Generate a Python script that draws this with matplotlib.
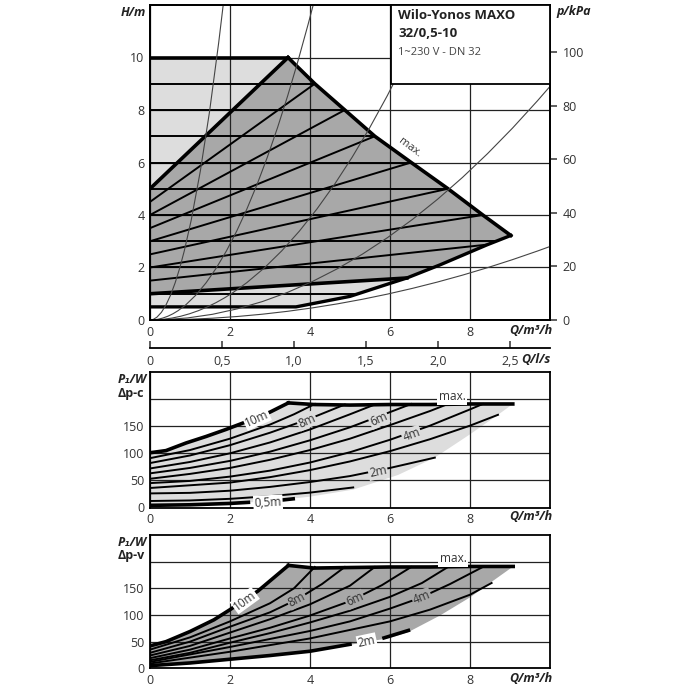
import matplotlib
matplotlib.use("Agg")
import matplotlib.pyplot as plt
from matplotlib.patches import Polygon, Rectangle, PathPatch
from matplotlib.path import Path

plt.rcParams['font.family'] = ['Open Sans', 'DejaVu Sans']
plt.rcParams['axes.linewidth'] = 1.3

# ---------------- data: H(Q) chart ----------------
q_ticks = [0, 2, 4, 6, 8]
h_ticks = [0, 2, 4, 6, 8, 10]
kpa_ticks = [0, 20, 40, 60, 80, 100]
ls_ticks = [0, 0.5, 1.0, 1.5, 2.0, 2.5]
ls_labels = ["0", "0,5", "1,0", "1,5", "2,0", "2,5"]
p_ticks = [0, 50, 100, 150, 200]
p_labels = ["0", "50", "100", "150", ""]

max_q = [3.45, 4.12, 4.87, 5.62, 6.53, 7.45, 8.32, 9.02]
max_h = [10, 9, 8, 7, 6, 5, 4, 3.22]
low_q = [0, 3.65, 5.0, 6.05, 6.42, 7.25, 8.42, 9.02]
low_h = [0.5, 0.5, 0.9, 1.42, 1.6, 2.1, 2.86, 3.22]
dpc_h = [9, 8, 7, 6, 5, 4, 3, 2, 1]
dpc_qend = [4.12, 4.87, 5.62, 6.53, 7.45, 8.32, 8.65, 7.08, 5.2]
dpv_h0 = [4.5, 4, 3.5, 3, 2.5, 2, 1.5]
dpv_q1 = [4.12, 4.87, 5.62, 6.53, 7.45, 8.32, 8.42]
dpv_h1 = [9, 8, 7, 6, 5, 4, 2.87]
dpv_top = ([0, 3.45], [5, 10])
dpv_bot = ([0, 6.42], [1.0, 1.6])
# system curves (parabolas through origin): exit point of each curve
sys_end_q = [1.83, 4.08, 7.03, 10.0, 10.0]
sys_end_h = [12, 12, 12, 8.9, 2.8]

# ---------------- data: P1 for dp-c ----------------
pc_q = [
    [0, 0.4, 0.9, 1.4, 1.9, 2.4, 3.0, 3.46],
    [0, 1, 2, 3, 3.6, 4.12],
    [0, 1, 2, 3, 4, 4.87],
    [0, 1, 2, 3, 4, 5, 5.62],
    [0, 1, 2, 3, 4, 5, 6, 6.53],
    [0, 1, 2, 3, 4, 5, 6, 7, 7.45],
    [0, 1, 2, 3, 4, 5, 6, 7, 8, 8.32],
    [0, 2, 3, 4, 5, 6, 7, 8, 8.7],
    [0, 1, 2, 3, 4, 5, 6, 7.12],
    [0, 1, 2, 3, 4, 5.08],
]
pc_p = [
    [101, 105, 119, 131, 144, 158, 176, 193],
    [91, 106, 127, 153, 172, 191],
    [82, 96, 115, 138, 164, 190],
    [72, 84, 100, 120, 144, 172, 190],
    [63, 73, 86, 103, 124, 148, 176, 191],
    [53, 62, 73, 88, 106, 127, 152, 178, 191],
    [45, 49, 57, 68, 83, 102, 125, 151, 181, 191],
    [36, 46, 56, 69, 85, 104, 126, 151, 171],
    [26, 27, 31, 38, 47, 58, 73, 92],
    [12, 13, 16, 21, 27.5, 37],
]
pc_min_q = [0, 1, 2, 2.46]
pc_min_p = [4, 5, 7.5, 9.5]
pc_min2_q = [3.33, 3.58]
pc_min2_p = [14, 16]
pc_max_q = [3.46, 4.1, 5.0, 6.0, 7.0, 8.0, 9.07]
pc_max_p = [193, 190, 189, 190, 190, 191, 191]
pc_low_q = [9.07, 8.7, 8.0, 7.12, 6.2, 5.08, 4.0, 3.0, 2.0, 0]
pc_low_p = [191, 171, 135, 92, 60, 33, 20, 12, 7, 3]

# ---------------- data: P1 for dp-v ----------------
pv_q = [
    [0, 0.4, 1, 1.6, 2, 2.7, 3.46],
    [0, 1, 2, 3, 3.6, 4.12],
    [0, 1, 2, 3, 3.67, 4.3, 4.87],
    [0, 1, 2, 3, 4, 5, 5.62],
    [0, 1, 2, 3, 4, 5, 5.8, 6.53],
    [0, 1, 2, 3, 4, 5, 6, 6.8, 7.45],
    [0, 2, 4, 5, 6, 6.75, 7.5, 8.32],
    [0, 2, 4, 6, 7, 8, 8.54],
]
pv_p = [
    [42, 50, 69, 91, 110, 145, 193],
    [35, 58, 88, 122, 150, 190],
    [29, 50, 78, 105, 129, 158, 190],
    [24, 42, 67, 92, 120, 155, 190],
    [19, 35, 56, 76, 99, 126, 156, 190],
    [15, 29, 48, 66, 86, 108, 134, 160, 190],
    [12, 40, 70, 88, 112, 132, 158, 190],
    [9, 31, 56, 88, 110, 138, 160],
]
pv_min_q = [0, 1, 2, 3, 4, 5.0]
pv_min_p = [5, 10, 17, 24, 32, 45]
pv_min2_q = [5.85, 6.46]
pv_min2_p = [57, 71]
pv_max_q = [3.46, 4.1, 5.0, 6.0, 7.0, 8.0, 9.08]
pv_max_p = [193, 188, 189, 190, 190, 191, 191]
pv_low_q = [9.08, 8.5, 8.0, 7.25, 6.46, 6.0, 5.0]
pv_low_p = [191, 160, 133, 99, 68, 57, 44]

# ---------------- figure ----------------
W = H = 700.0
fig = plt.figure(figsize=(7, 7), dpi=100)


def px_axes(l, t, r, b):
    return fig.add_axes([l / W, 1 - b / H, (r - l) / W, (b - t) / H])


GRID = dict(color='#222222', lw=0.9)
LIGHT = '#dddddd'
DARK = '#a8a8a8'
TXT = '#333333'
FS = 9


def style_axes(ax, ylim, yticks, ylabels):
    ax.set_xlim(0, 10)
    ax.set_ylim(*ylim)
    ax.set_xticks(q_ticks)
    ax.set_xticklabels([str(v) for v in q_ticks])
    ax.set_yticks(yticks)
    ax.set_yticklabels(ylabels)
    ax.tick_params(length=0, labelsize=FS, pad=4, colors=TXT)
    ax.set_axisbelow(True)
    ax.grid(True, **GRID)


# ===== top chart =====
ax1 = px_axes(150, 5, 550, 320)
style_axes(ax1, (0, 12), h_ticks, [str(v) for v in h_ticks])

# light region (dp-c)
poly_light = list(zip(low_q, low_h)) + list(zip(max_q[::-1], max_h[::-1])) + [(0, 10)]
ax1.add_patch(Polygon(poly_light, closed=True, fc=LIGHT, ec='none', zorder=0.2))
# dark region (dp-v)
lo_idx = [i for i, q in enumerate(low_q) if q >= 6.42]
poly_dark = [(0, 5)] + list(zip(max_q, max_h)) + \
    [(low_q[i], low_h[i]) for i in lo_idx[::-1]] + [(0, 1.0)]
ax1.add_patch(Polygon(poly_dark, closed=True, fc=DARK, ec='none', zorder=0.3))

# dp-c horizontal lines
for h, qe in zip(dpc_h, dpc_qend):
    ax1.plot([0, qe], [h, h], color='black', lw=1.4, zorder=3)
# dp-v lines
for h0, q1, h1 in zip(dpv_h0, dpv_q1, dpv_h1):
    ax1.plot([0, q1], [h0, h1], color='black', lw=1.4, zorder=3)
# thick boundaries
ax1.plot([0, max_q[0]], [10, 10], color='black', lw=2.6, zorder=4)
ax1.plot(*dpv_top, color='black', lw=2.6, zorder=4)
ax1.plot(*dpv_bot, color='black', lw=2.6, zorder=4)
ax1.plot(max_q, max_h, color='black', lw=2.6, zorder=4, solid_joinstyle='miter')
ax1.plot(low_q, low_h, color='black', lw=2.4, zorder=4)

# system curves as quadratic Bezier (parabola through origin)
for qe, he in zip(sys_end_q, sys_end_h):
    path = Path([(0, 0), (qe / 2, 0), (qe, he)], [Path.MOVETO, Path.CURVE3, Path.CURVE3])
    ax1.add_patch(PathPatch(path, fc='none', ec='#444444', lw=0.8, zorder=4.5))

ax1.text(6.5, 6.55, 'max.', rotation=-37, fontsize=8, color=TXT,
         ha='center', va='center', zorder=5)

# info box
ax1.add_patch(Rectangle((6.03, 9), 4.0, 3.2, fc='white', ec='black', lw=1.3, zorder=6))
ax1.text(6.2, 11.6, 'Wilo-Yonos MAXO', fontsize=9.5, fontweight='bold', color='#222',
         ha='left', va='center', zorder=7)
ax1.text(6.2, 10.92, '32/0,5-10', fontsize=9.5, fontweight='bold', color='#222',
         ha='left', va='center', zorder=7)
ax1.text(6.2, 10.2, '1~230 V - DN 32', fontsize=8, color='#444',
         ha='left', va='center', zorder=7)

ax1r = ax1.twinx()
ax1r.set_ylim(0, 12 * 9.81)
ax1r.set_yticks(kpa_ticks)
ax1r.set_yticklabels([str(v) for v in kpa_ticks])
ax1r.tick_params(direction='out', length=5, width=1.1, labelsize=FS, pad=4, colors=TXT)

fig.text(146 / W, 1 - 12 / H, 'H/m', ha='right', va='center', fontsize=9,
         fontweight='bold', style='italic', color='#222')
fig.text(556 / W, 1 - 12 / H, 'p/kPa', ha='left', va='center', fontsize=9,
         fontweight='bold', style='italic', color='#222')
fig.text(552 / W, 1 - 331 / H, 'Q/m³/h', ha='right', va='center', fontsize=9,
         fontweight='bold', style='italic', color='#222',
         bbox=dict(boxstyle='square,pad=0.1', fc='white', ec='none'))

# ===== l/s axis =====
axls = px_axes(150, 347, 550, 348)
axls.set_xlim(0, 10 / 3.6)
axls.set_ylim(0, 1)
for s in ('left', 'right', 'top'):
    axls.spines[s].set_visible(False)
axls.set_yticks([])
axls.set_xticks(ls_ticks)
axls.set_xticklabels(ls_labels)
axls.tick_params(axis='x', direction='in', length=5, width=1.1, labelsize=FS, pad=5, colors=TXT)
axls.patch.set_alpha(0)
fig.text(551 / W, 1 - 360 / H, 'Q/l/s', ha='right', va='center', fontsize=9,
         fontweight='bold', style='italic', color='#222',
         bbox=dict(boxstyle='square,pad=0.1', fc='white', ec='none'))


def inline(ax, x, y, s, rot, fc):
    ax.text(x, y, s, rotation=rot, rotation_mode='anchor', ha='center', va='center',
            fontsize=8.5, color=TXT, zorder=6,
            bbox=dict(boxstyle='square,pad=0.08', fc=fc, ec='none'))


# ===== middle chart (dp-c power) =====
ax2 = px_axes(150, 372, 550, 507.5)
style_axes(ax2, (0, 250), p_ticks, p_labels)
poly2 = list(zip(pc_q[0], pc_p[0])) + list(zip(pc_max_q[1:], pc_max_p[1:])) + \
    list(zip(pc_low_q[1:], pc_low_p[1:]))
ax2.add_patch(Polygon(poly2, closed=True, fc=LIGHT, ec='none', zorder=0.2))
for i, (qs, ps) in enumerate(zip(pc_q, pc_p)):
    ax2.plot(qs, ps, color='black', lw=2.6 if i == 0 else 1.4, zorder=3)
ax2.plot(pc_max_q, pc_max_p, color='black', lw=2.6, zorder=4)
ax2.plot(pc_min_q, pc_min_p, color='black', lw=2.6, zorder=4)
ax2.plot(pc_min2_q, pc_min2_p, color='black', lw=2.6, zorder=4)
inline(ax2, 2.67, 164, '10m', 24, 'white')
inline(ax2, 3.92, 160, '8m', 24, LIGHT)
inline(ax2, 5.72, 163, '6m', 24, LIGHT)
inline(ax2, 6.54, 134, '4m', 20, LIGHT)
inline(ax2, 5.70, 66, '2m', 12, LIGHT)
inline(ax2, 2.95, 9, '0,5m', 3, 'white')
ax2.text(7.55, 204, 'max.', ha='center', va='center', fontsize=8.5, color=TXT, zorder=6,
         bbox=dict(boxstyle='square,pad=0.15', fc='white', ec='none'))
fig.text(118 / W, 1 - 379 / H, 'P₁/W', ha='left', va='center', fontsize=9,
         fontweight='bold', style='italic', color='#222')
fig.text(118 / W, 1 - 393 / H, 'Δp-c', ha='left', va='center', fontsize=9,
         fontweight='bold', color='#222')
fig.text(552 / W, 1 - 517 / H, 'Q/m³/h', ha='right', va='center', fontsize=9,
         fontweight='bold', style='italic', color='#222',
         bbox=dict(boxstyle='square,pad=0.1', fc='white', ec='none'))

# ===== bottom chart (dp-v power) =====
ax3 = px_axes(150, 535, 550, 668.3)
style_axes(ax3, (0, 250), p_ticks, p_labels)
poly3 = list(zip(pv_q[0], pv_p[0])) + list(zip(pv_max_q[1:], pv_max_p[1:])) + \
    list(zip(pv_low_q[1:], pv_low_p[1:])) + list(zip(pv_min_q[::-1], pv_min_p[::-1]))
ax3.add_patch(Polygon(poly3, closed=True, fc=DARK, ec='none', zorder=0.2))
for i, (qs, ps) in enumerate(zip(pv_q, pv_p)):
    ax3.plot(qs, ps, color='black', lw=2.6 if i == 0 else 1.4, zorder=3)
ax3.plot(pv_max_q, pv_max_p, color='black', lw=2.6, zorder=4)
ax3.plot(pv_min_q, pv_min_p, color='black', lw=2.6, zorder=4)
ax3.plot(pv_min2_q, pv_min2_p, color='black', lw=2.6, zorder=4)
inline(ax3, 2.37, 127, '10m', 36, 'white')
inline(ax3, 3.67, 129, '8m', 28, DARK)
inline(ax3, 5.12, 129, '6m', 24, DARK)
inline(ax3, 6.79, 133, '4m', 22, DARK)
inline(ax3, 5.42, 50, '2m', 12, 'white')
ax3.text(7.58, 205, 'max.', ha='center', va='center', fontsize=8.5, color=TXT, zorder=6,
         bbox=dict(boxstyle='square,pad=0.15', fc='white', ec='none'))
fig.text(118 / W, 1 - 543 / H, 'P₁/W', ha='left', va='center', fontsize=9,
         fontweight='bold', style='italic', color='#222')
fig.text(118 / W, 1 - 556 / H, 'Δp-v', ha='left', va='center', fontsize=9,
         fontweight='bold', color='#222')
fig.text(552 / W, 1 - 679 / H, 'Q/m³/h', ha='right', va='center', fontsize=9,
         fontweight='bold', style='italic', color='#222',
         bbox=dict(boxstyle='square,pad=0.1', fc='white', ec='none'))

fig.savefig('out.png', dpi=100, facecolor='white')
